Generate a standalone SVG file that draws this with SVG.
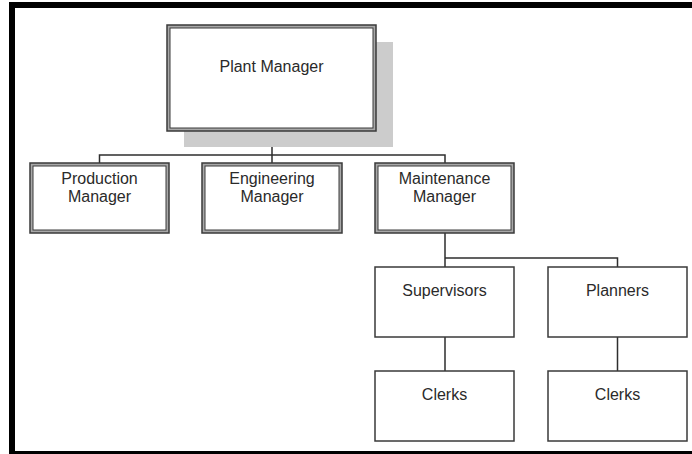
<svg xmlns="http://www.w3.org/2000/svg" width="692" height="454" viewBox="0 0 692 454">
  <style>
    .frame { fill: #000; }
    .shadow { fill: #cccccc; }
    .outer { fill: #a8a8a8; stroke: #3a3a3a; stroke-width: 1.5; }
    .inner { fill: #fff; stroke: #3a3a3a; stroke-width: 1; }
    .box { fill: #fff; stroke: #3a3a3a; stroke-width: 1.5; }
    .wire { fill: none; stroke: #2e2e2e; stroke-width: 1.5; }
    text { font-family: "Liberation Sans", Arial, sans-serif; font-size: 16px; fill: #2a2a2a; text-anchor: middle; }
  </style>

  <rect width="692" height="454" fill="#fff"/>

  <!-- page frame -->
  <g id="frame">
    <rect class="frame" x="9" y="2" width="683" height="6"/>
    <rect class="frame" x="9" y="2" width="6" height="452"/>
    <rect class="frame" x="9" y="451" width="683" height="3"/>
  </g>

  <!-- connectors -->
  <g id="connectors">
    <path class="wire" d="M272 131 V155 M99.5 163 V155 H445 V163 M272 155 V163"/>
    <path class="wire" d="M445 233 V258 H617.5 V267 M445 258 V267"/>
    <path class="wire" d="M445 337 V371 M617.5 337 V371"/>
  </g>

  <g id="plant-manager">
    <rect class="shadow" x="184" y="42" width="209" height="105"/>
    <rect class="outer" x="167" y="25" width="209" height="106"/>
    <rect class="inner" x="170" y="28" width="203" height="100"/>
    <text x="271.5" y="72">Plant Manager</text>
  </g>

  <g id="production-manager">
    <rect class="outer" x="30" y="163" width="139" height="70"/>
    <rect class="inner" x="33" y="166" width="133" height="64"/>
    <text x="99.5" y="184">Production</text>
    <text x="99.5" y="202">Manager</text>
  </g>

  <g id="engineering-manager">
    <rect class="outer" x="202" y="163" width="140" height="70"/>
    <rect class="inner" x="205" y="166" width="134" height="64"/>
    <text x="272" y="184">Engineering</text>
    <text x="272" y="202">Manager</text>
  </g>

  <g id="maintenance-manager">
    <rect class="outer" x="375" y="163" width="139" height="70"/>
    <rect class="inner" x="378" y="166" width="133" height="64"/>
    <text x="444.5" y="184">Maintenance</text>
    <text x="444.5" y="202">Manager</text>
  </g>

  <g id="supervisors">
    <rect class="box" x="375" y="267" width="139" height="70"/>
    <text x="444.5" y="296">Supervisors</text>
  </g>

  <g id="planners">
    <rect class="box" x="548" y="267" width="139" height="70"/>
    <text x="617.5" y="296">Planners</text>
  </g>

  <g id="supervisors-clerks">
    <rect class="box" x="375" y="371" width="139" height="70"/>
    <text x="444.5" y="400">Clerks</text>
  </g>

  <g id="planners-clerks">
    <rect class="box" x="548" y="371" width="139" height="70"/>
    <text x="617.5" y="400">Clerks</text>
  </g>
</svg>
